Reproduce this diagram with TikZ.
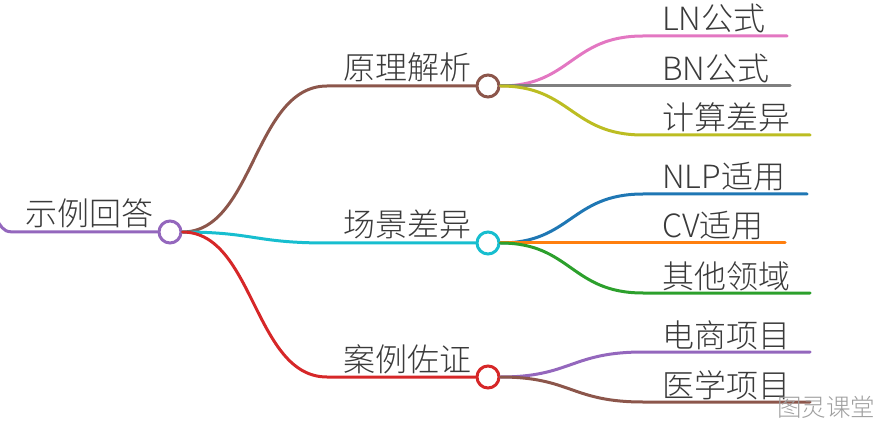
\documentclass[tikz,border=0pt]{standalone}
\usepackage{fontspec}
\setmainfont{Noto Sans CJK SC}[UprightFont={* Light}]
\definecolor{tpurple}{HTML}{9467BD}
\definecolor{tbrown}{HTML}{8C564B}
\definecolor{tcyan}{HTML}{17BECF}
\definecolor{tred}{HTML}{D62728}
\definecolor{tpink}{HTML}{E377C2}
\definecolor{tgray}{HTML}{7F7F7F}
\definecolor{tolive}{HTML}{BCBD22}
\definecolor{tblue}{HTML}{1F77B4}
\definecolor{torange}{HTML}{FF7F0E}
\definecolor{tgreen}{HTML}{2CA02C}
\definecolor{txt}{HTML}{3A3A3A}
\tikzset{
  link/.style={line width=3pt},
  dot/.style={circle, draw=#1, line width=3pt, fill=white, minimum size=22pt, inner sep=0pt},
  lbl/.style={anchor=base west, inner sep=0pt, text=txt, font=\fontsize{32}{36}\selectfont},
  wm/.style={anchor=base west, inner sep=0pt, text=gray!75, font=\fontsize{24.5}{28}\selectfont}
}
\begin{document}
\begin{tikzpicture}[x=1pt,y=-1pt]
\useasboundingbox (0,0) rectangle (883,430);
% root
\coordinate (r0) at (-2,222);
\coordinate (r1) at (20,232);
\node[dot=tpurple] (r) at (170,232) {};
\node[lbl] (rt) at (25,226) {示例回答};
% level 1
\node[dot=tbrown] (a) at (488,86) {};
\node[dot=tcyan] (b) at (488,243) {};
\node[dot=tred] (c) at (488,377) {};
\coordinate (as) at (327,86);
\coordinate (bs) at (327,243);
\coordinate (cs) at (327,377);
\node[lbl] (at) at (343,80) {原理解析};
\node[lbl] (bt) at (343,237) {场景差异};
\node[lbl] (ct) at (343,371) {案例佐证};
% level 2 starts/ends
\coordinate (a1s) at (643,36);  \coordinate (a1e) at (787,36);
\coordinate (a2s) at (643,86);  \coordinate (a2e) at (790,86);
\coordinate (a3s) at (643,135); \coordinate (a3e) at (810,135);
\coordinate (b1s) at (643,194); \coordinate (b1e) at (807,194);
\coordinate (b2s) at (643,243); \coordinate (b2e) at (785,243);
\coordinate (b3s) at (643,293); \coordinate (b3e) at (810,293);
\coordinate (c1s) at (643,352); \coordinate (c1e) at (810,352);
\coordinate (c2s) at (643,402); \coordinate (c2e) at (810,402);
\node[lbl] (a1t) at (662,31) {LN公式};
\node[lbl] (a2t) at (662,81) {BN公式};
\node[lbl] (a3t) at (662,130) {计算差异};
\node[lbl] (b1t) at (662,189) {NLP适用};
\node[lbl] (b2t) at (662,238) {CV适用};
\node[lbl] (b3t) at (662,288) {其他领域};
\node[lbl] (c1t) at (662,347) {电商项目};
\node[lbl] (c2t) at (662,397) {医学项目};
% links
\begin{scope}[line cap=round]
\draw[link, tpurple] (r0) .. controls (5,232) .. (r1) -- (r.west);
\draw[link, tbrown] (r.east) .. controls (254,232) and (254,86) .. (as) -- (a.west);
\draw[link, tcyan] (r.east) .. controls (254,232) and (254,243) .. (bs) -- (b.west);
\draw[link, tred] (r.east) .. controls (254,232) and (254,377) .. (cs) -- (c.west);
\draw[link, tpink] (a.east) .. controls (571,86) and (571,36) .. (a1s) -- (a1e);
\draw[link, tgray] (a.east) -- (a2s) -- (a2e);
\draw[link, tolive] (a.east) .. controls (571,86) and (571,135) .. (a3s) -- (a3e);
\draw[link, tblue] (b.east) .. controls (571,243) and (571,194) .. (b1s) -- (b1e);
\draw[link, torange] (b.east) -- (b2s) -- (b2e);
\draw[link, tgreen] (b.east) .. controls (571,243) and (571,293) .. (b3s) -- (b3e);
\draw[link, tpurple] (c.east) .. controls (571,377) and (571,352) .. (c1s) -- (c1e);
\draw[link, tbrown] (c.east) .. controls (571,377) and (571,402) .. (c2s) -- (c2e);
\end{scope}
\node[wm] (wmk) at (777,416) {图灵课堂};
\end{tikzpicture}
\end{document}
